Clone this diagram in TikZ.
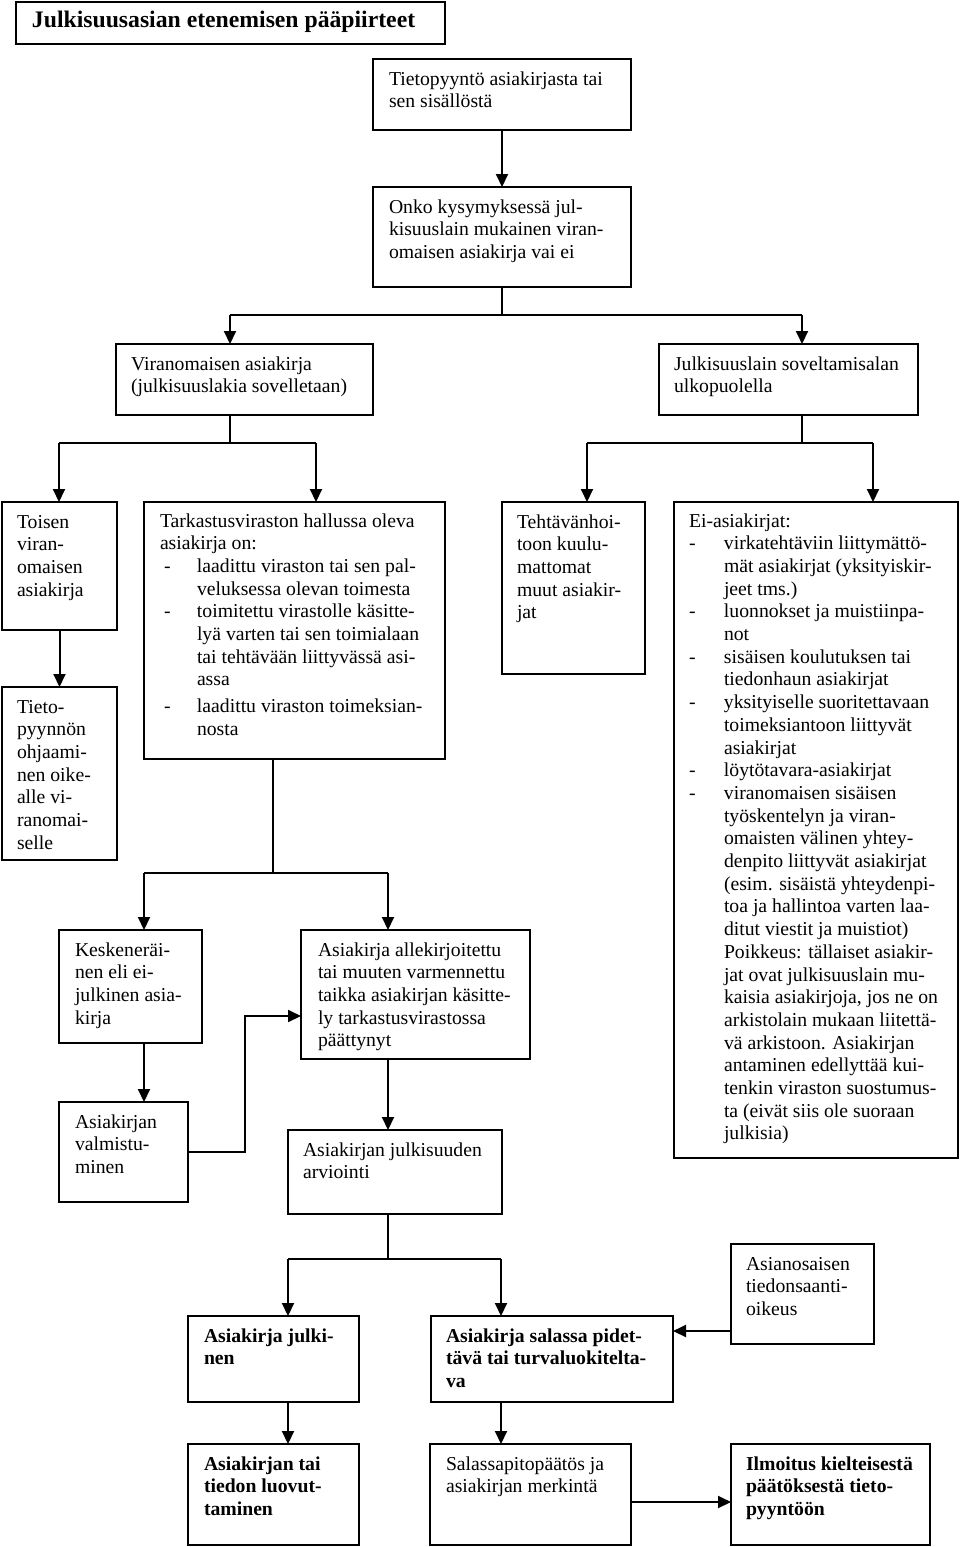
\documentclass[tikz,border=0pt]{standalone}
\usepackage{fontspec}
\setmainfont{Liberation Serif}
\usetikzlibrary{arrows.meta}
\newcommand{\bt}[5]{\parbox[t][#2][t]{#1}{\vspace*{\dimexpr#3-\ht\strutbox\relax}\raggedright\leftskip=#4\relax\rightskip=-300pt plus 1fil\relax\strut#5}}
\newcommand{\bulG}{\hspace*{4pt}\makebox[33pt][l]{-}}
\newcommand{\contG}{\hspace*{37pt}}
\newcommand{\bulI}{\makebox[35pt][l]{-}}
\newcommand{\contI}{\hspace*{35pt}}
\tikzset{
  box/.style={draw, line width=2pt, anchor=north west, inner sep=0pt, outer sep=0pt, font=\fontsize{19.7}{22.7}\selectfont},
  bold/.style={font=\fontsize{19.7}{22.7}\selectfont\bfseries},
  titlef/.style={font=\fontsize{23.7}{27}\selectfont\bfseries},
  conn/.style={line width=2pt},
  thinconn/.style={line width=1.2pt},
  arr/.style={line width=2pt, -{Triangle[length=13pt,width=12pt]}}
}
\begin{document}
\begin{tikzpicture}[x=1pt,y=1pt]
\useasboundingbox (0,0) rectangle (960,-1547);
% boxes
\node[box,titlef] (T) at (16,-2) {\bt{429pt}{42pt}{25pt}{16pt}{Julkisuusasian etenemisen pääpiirteet}};
\node[box] (A) at (373,-59) {\bt{258pt}{71pt}{26pt}{16pt}{Tietopyyntö asiakirjasta tai\\sen sisällöstä}};
\node[box] (B) at (373,-187) {\bt{258pt}{100pt}{26pt}{16pt}{Onko kysymyksessä jul-\\kisuuslain mukainen viran-\\omaisen asiakirja vai ei}};
\node[box] (C) at (116,-344) {\bt{257pt}{71pt}{26pt}{15pt}{Viranomaisen asiakirja\\(julkisuuslakia sovelletaan)}};
\node[box] (D) at (659,-344) {\bt{259pt}{71pt}{26pt}{15pt}{Julkisuuslain soveltamisalan\\ulkopuolella}};
\node[box] (E) at (2,-502) {\bt{115pt}{128pt}{26pt}{15pt}{Toisen\\viran-\\omaisen\\asiakirja}};
\node[box] (F) at (2,-687) {\bt{115pt}{173pt}{26pt}{15pt}{Tieto-\\pyynnön\\ohjaami-\\nen oike-\\alle vi-\\ranomai-\\selle}};
\node[box] (G) at (144,-502) {\bt{301pt}{257pt}{25pt}{16pt}{Tarkastusviraston hallussa oleva\\
asiakirja on:\\
\bulG laadittu viraston tai sen pal-\\
\contG veluksessa olevan toimesta\\
\bulG toimitettu virastolle käsitte-\\
\contG lyä varten tai sen toimialaan\\
\contG tai tehtävään liittyvässä asi-\\
\contG assa\\[4pt]
\bulG laadittu viraston toimeksian-\\
\contG nosta}};
\node[box] (H) at (502,-502) {\bt{143pt}{172pt}{26pt}{15pt}{Tehtävänhoi-\\toon kuulu-\\mattomat\\muut asiakir-\\jat}};
\node[box] (I) at (674,-502) {\bt{284pt}{656pt}{25pt}{15pt}{Ei-asiakirjat:\\
\bulI virkatehtäviin liittymättö-\\
\contI mät asiakirjat (yksityiskir-\\
\contI jeet tms.)\\
\bulI luonnokset ja muistiinpa-\\
\contI not\\
\bulI sisäisen koulutuksen tai\\
\contI tiedonhaun asiakirjat\\
\bulI yksityiselle suoritettavaan\\
\contI toimeksiantoon liittyvät\\
\contI asiakirjat\\
\bulI löytötavara-asiakirjat\\
\bulI viranomaisen sisäisen\\
\contI työskentelyn ja viran-\\
\contI omaisten välinen yhtey-\\
\contI denpito liittyvät asiakirjat\\
\contI (esim. sisäistä yhteydenpi-\\
\contI toa ja hallintoa varten laa-\\
\contI ditut viestit ja muistiot)\\
\contI Poikkeus: tällaiset asiakir-\\
\contI jat ovat julkisuuslain mu-\\
\contI kaisia asiakirjoja, jos ne on\\
\contI arkistolain mukaan liitettä-\\
\contI vä arkistoon. Asiakirjan\\
\contI antaminen edellyttää kui-\\
\contI tenkin viraston suostumus-\\
\contI ta (eivät siis ole suoraan\\
\contI julkisia)}};
\node[box] (J) at (59,-930) {\bt{143pt}{113pt}{26pt}{16pt}{Keskeneräi-\\nen eli ei-\\julkinen asia-\\kirja}};
\node[box] (L) at (59,-1102) {\bt{129pt}{100pt}{26pt}{16pt}{Asiakirjan\\valmistu-\\minen}};
\node[box] (K) at (301,-930) {\bt{229pt}{129pt}{26pt}{17pt}{Asiakirja allekirjoitettu\\tai muuten varmennettu\\taikka asiakirjan käsitte-\\ly tarkastusvirastossa\\päättynyt}};
\node[box] (M) at (288,-1130) {\bt{214pt}{84pt}{26pt}{15pt}{Asiakirjan julkisuuden\\arviointi}};
\node[box,bold] (N) at (188,-1316) {\bt{171pt}{86pt}{26pt}{16pt}{Asiakirja julki-\\nen}};
\node[box,bold] (O) at (431,-1316) {\bt{242pt}{86pt}{26pt}{15pt}{Asiakirja salassa pidet-\\tävä tai turvaluokitelta-\\va}};
\node[box] (P) at (731,-1244) {\bt{143pt}{100pt}{26pt}{15pt}{Asianosaisen\\tiedonsaanti-\\oikeus}};
\node[box,bold] (Q) at (188,-1444) {\bt{171pt}{101pt}{26pt}{16pt}{Asiakirjan tai\\tiedon luovut-\\taminen}};
\node[box] (R) at (430,-1444) {\bt{201pt}{101pt}{26pt}{16pt}{Salassapitopäätös ja\\asiakirjan merkintä}};
\node[box,bold] (S) at (731,-1444) {\bt{199pt}{101pt}{26pt}{15pt}{Ilmoitus kielteisestä\\päätöksestä tieto-\\pyyntöön}};
% junction coordinates
\coordinate (t0) at (502,-315);
\coordinate (tL) at (230,-315);
\coordinate (tR) at (802,-315);
\coordinate (lL) at (59,-443);
\coordinate (lR) at (316,-443);
\coordinate (rL) at (587,-443);
\coordinate (rR) at (873,-443);
\coordinate (g0) at (273,-873);
\coordinate (gL) at (144,-873);
\coordinate (gR) at (388,-873);
\coordinate (lk) at (245,-1016);
\coordinate (m0) at (388,-1259);
\coordinate (mL) at (288,-1259);
\coordinate (mR) at (501,-1259);
\coordinate (po) at (0,-1331);
\coordinate (rs) at (0,-1502);
% connectors
\draw[arr] (A.south) -- (B.north);
\draw[conn] (B.south) -- (t0);
\draw[conn] (tL) -- (tR);
\draw[arr] (tL) -- (tL |- C.north);
\draw[arr] (tR) -- (tR |- D.north);
\draw[thinconn] (tL |- C.south) -- (tL |- lL);
\draw[conn] (lL) -- (lR);
\draw[arr] (lL) -- (lL |- E.north);
\draw[arr] (lR) -- (lR |- G.north);
\draw[conn] (tR |- D.south) -- (tR |- rL);
\draw[conn] (rL) -- (rR);
\draw[arr] (rL) -- (rL |- H.north);
\draw[arr] (rR) -- (rR |- I.north);
\draw[arr] (E.south) -- (F.north);
\draw[conn] (g0 |- G.south) -- (g0);
\draw[conn] (gL) -- (gR);
\draw[arr] (gL) -- (gL |- J.north);
\draw[arr] (gR) -- (gR |- K.north);
\draw[arr] (gL |- J.south) -- (gL |- L.north);
\draw[arr] (L.east) -| (lk) -- (lk -| K.west);
\draw[arr] (gR |- K.south) -- (gR |- M.north);
\draw[conn] (m0 |- M.south) -- (m0);
\draw[conn] (mL) -- (mR);
\draw[arr] (mL) -- (mL |- N.north);
\draw[arr] (mR) -- (mR |- O.north);
\draw[arr] (mL |- N.south) -- (mL |- Q.north);
\draw[arr] (mR |- O.south) -- (mR |- R.north);
\draw[arr] (P.west |- po) -- (O.east |- po);
\draw[arr] (R.east |- rs) -- (S.west |- rs);
\end{tikzpicture}
\end{document}
